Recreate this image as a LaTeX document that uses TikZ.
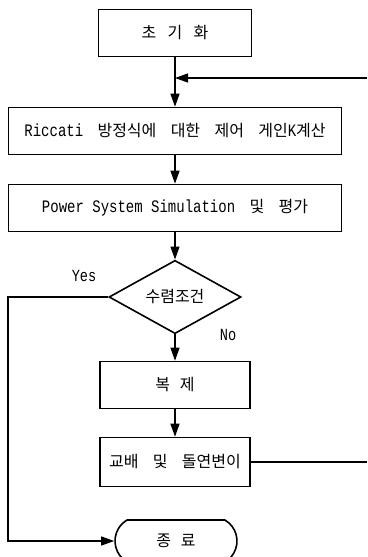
\documentclass[tikz,border=0pt]{standalone}
\usepackage{fontspec}
\newfontfamily\kr{Noto Sans CJK KR}[WordSpace=4]
\newfontfamily\lat{Liberation Mono}[FakeStretch=0.8]
\newcommand\en[1]{{\lat\fontsize{17.5bp}{20bp}\selectfont #1}}
\usetikzlibrary{arrows.meta,shapes.geometric,shapes.misc}

\begin{document}
\begin{tikzpicture}
  [x=1bp,y=-1bp,
   every node/.style={draw,line width=1.6bp,inner sep=0pt,font=\kr\fontsize{16bp}{18bp}\selectfont},
   proc/.style={rectangle,minimum height=47bp},
   arr/.style={line width=1.3bp,-{Triangle[length=13bp,width=9bp]}},
   lbl/.style={draw=none,font=\lat\fontsize{17bp}{20bp}\selectfont}]
  \useasboundingbox (0,0) rectangle (367,557);

  \node[proc,minimum width=153bp] (init) at (175,33) {초\hspace{0.7em}기\hspace{0.7em}화};
  \node[proc,minimum width=333bp] (ricc) at (175,131) {\en{Riccati} 방정식에 대한 제어 게인\en{K}계산};
  \node[proc,minimum width=333bp] (power) at (175,208) {\en{Power System Simulation} 및 평가};
  \node[diamond,minimum width=132bp,minimum height=60bp] (cond) at (175,297) {수렴조건};
  \node[proc,minimum width=150bp] (copy) at (175,385) {복\hspace{0.6em}제};
  \node[proc,minimum width=150bp,minimum height=49bp] (cross) at (175,462) {교배 및 돌연변이};
  \node[rounded rectangle,rounded rectangle arc length=120,minimum width=122bp,minimum height=42bp] (end) at (176,541) {종\hspace{0.6em}료};

  \node[lbl] (yes) at (84,276) {Yes};
  \node[lbl] (no) at (228,335) {No};

  \coordinate (fbin) at (367,78);
  \coordinate (fbout) at (367,462);
  \coordinate (yesturn) at (8,297);

  \foreach \from/\to in {init/ricc,ricc/power,power/cond,cond/copy,copy/cross}
    \draw[arr] (\from) -- (\to);
  \draw[arr] (fbin) -- (init.south |- fbin);
  \draw[line width=1.3bp] (cross) -- (fbout);
  \draw[arr] (cond.west) -- (yesturn) |- (end.west);

\end{tikzpicture}
\end{document}
